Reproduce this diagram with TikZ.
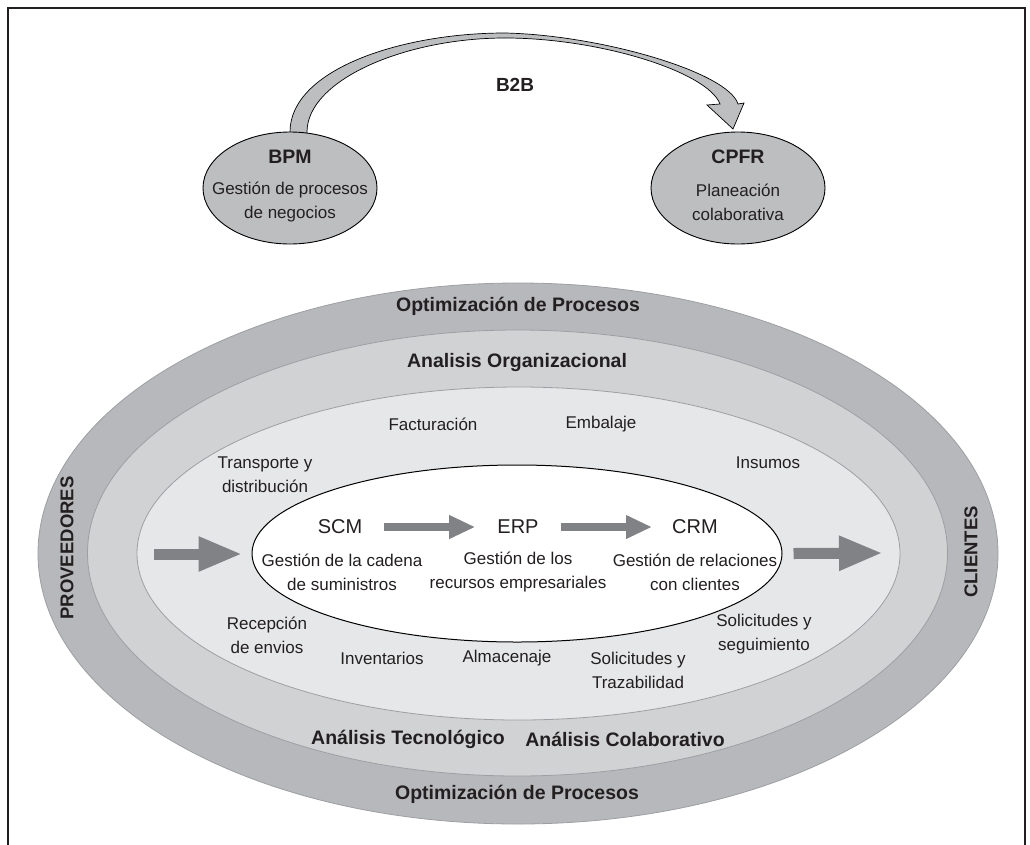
\documentclass[tikz,border=0pt]{standalone}
\usepackage{fontspec}
\setmainfont{Liberation Sans}
\usetikzlibrary{shapes.geometric,arrows.meta}
\definecolor{ink}{HTML}{231F20}
\definecolor{bandA}{HTML}{B7B8BB}
\definecolor{bandB}{HTML}{D1D2D4}
\definecolor{bandC}{HTML}{E6E7E8}
\definecolor{edgegray}{HTML}{9D9FA2}
\definecolor{arrowgray}{HTML}{808285}
\definecolor{ellgray}{HTML}{BCBEC0}
\begin{document}
\begin{tikzpicture}[x=1pt,y=-1pt,
  ring/.style={ellipse, inner sep=0pt, draw=edgegray, line width=0.8pt},
  topell/.style={ellipse, inner sep=0pt, fill=ellgray, draw=black, line width=0.9pt, minimum width=174pt, minimum height=112pt},
  lbl/.style={font=\fontsize{17}{24}\selectfont, text=ink, align=center, inner sep=0pt},
  boldlbl/.style={font=\fontsize{19.5}{24}\selectfont\bfseries, text=ink, align=center, inner sep=0pt},
  syslbl/.style={font=\fontsize{20}{24}\selectfont, text=ink, inner sep=0pt},
  sidelbl/.style={font=\fontsize{18.5}{22}\selectfont\bfseries, text=ink, rotate=90, inner sep=0pt},
  flow/.style={draw=arrowgray, line width=8pt, -{Triangle[length=26pt,width=22pt]}, shorten <=22pt, shorten >=22pt},
  bigflow/.style={draw=arrowgray, line width=11pt, -{Triangle[length=44pt,width=32pt]}}
]
\useasboundingbox (0,0) rectangle (1030,844);

% frame (open at the bottom)
\draw[ink, line width=2.5pt] (8,860) -- (8,8) -- (1025,8) -- (1025,860);

% B2B curved arrow
\coordinate (b2bbase) at (290,140);
\coordinate (b2btip) at (733,129);
\filldraw[fill=ellgray, draw=black, line width=0.7pt, line join=miter]
  (b2bbase) -- (290,132) .. controls (290,70) and (400,33) .. (505,33)
  .. controls (600,35) and (728,72) .. (738,104) -- (744,103) -- (b2btip) -- (707,105) -- (720,104)
  .. controls (708,72) and (600,38) .. (505,38)
  .. controls (405,38) and (307,80) .. (307,132) -- (307,140) -- cycle;
\node[boldlbl, font=\fontsize{19}{24}\selectfont\bfseries] (b2b) at (515,85) {B2B};

% BPM and CPFR
\node[topell] (bpm) at (290,188) {};
\node[boldlbl] (bpmt) at (290,157) {BPM};
\node[lbl] (bpmd) at (290,202) {Gestión de procesos\\de negocios};
\node[topell] (cpfr) at (738,188) {};
\node[boldlbl] (cpfrt) at (738,157) {CPFR};
\node[lbl] (cpfrd) at (738,202) {Planeación\\colaborativa};

% concentric ellipses
\node[ring, fill=bandA, minimum width=960pt, minimum height=541pt] (r1) at (518,553.5) {};
\node[ring, fill=bandB, minimum width=860pt, minimum height=446pt] (r2) at (517.5,553) {};
\node[ring, fill=bandC, minimum width=763pt, minimum height=333pt] (r3) at (518.5,553.5) {};
\node[ellipse, inner sep=0pt, fill=white, draw=black, line width=1pt, minimum width=530pt, minimum height=177pt] (core) at (517,553.5) {};

% band labels
\node[boldlbl] (opt1) at (518,306) {Optimización de Procesos};
\node[boldlbl] (aorg) at (517,362) {Analisis Organizacional};
\node[boldlbl] (atec) at (408,739) {Análisis Tecnológico};
\node[boldlbl] (acol) at (625,739) {Análisis Colaborativo};
\node[boldlbl] (opt2) at (517,794) {Optimización de Procesos};
\node[sidelbl] (prov) at (67,548) {PROVEEDORES};
\node[sidelbl] (cli) at (971,552) {CLIENTES};

% activity labels
\node[lbl] (fact) at (433,424) {Facturación};
\node[lbl] (emb) at (601,424) {Embalaje};
\node[lbl] (trans) at (265,475) {Transporte y\\distribución};
\node[lbl] (ins) at (768,463) {Insumos};
\node[lbl] (rec) at (267,635) {Recepción\\de envios};
\node[lbl] (inv) at (382,658) {Inventarios};
\node[lbl] (alm) at (507,658) {Almacenaje};
\node[lbl] (soltr) at (638,670) {Solicitudes y\\Trazabilidad};
\node[lbl] (solseg) at (764,634) {Solicitudes y\\seguimiento};

% systems
\node[syslbl] (scm) at (340,527) {SCM};
\node[syslbl] (erp) at (518,527) {ERP};
\node[syslbl] (crm) at (695,527) {CRM};
\node[lbl] (scmd) at (342,572) {Gestión de la cadena\\de suministros};
\node[lbl] (erpd) at (518,572) {Gestión de los\\recursos empresariales};
\node[lbl] (crmd) at (695,572) {Gestión de relaciones\\con clientes};

\draw[flow] (scm) -- (erp);
\draw[flow, shorten >=20pt] (erp) -- (crm);

% supplier / client arrows
\coordinate (pin) at (154,554);
\coordinate (pout) at (883,553);
\draw[bigflow] (pin) -- ([xshift=-9pt]core.west |- pin);
\draw[bigflow] ([xshift=11pt]core.east) -- (pout);
\end{tikzpicture}
\end{document}
